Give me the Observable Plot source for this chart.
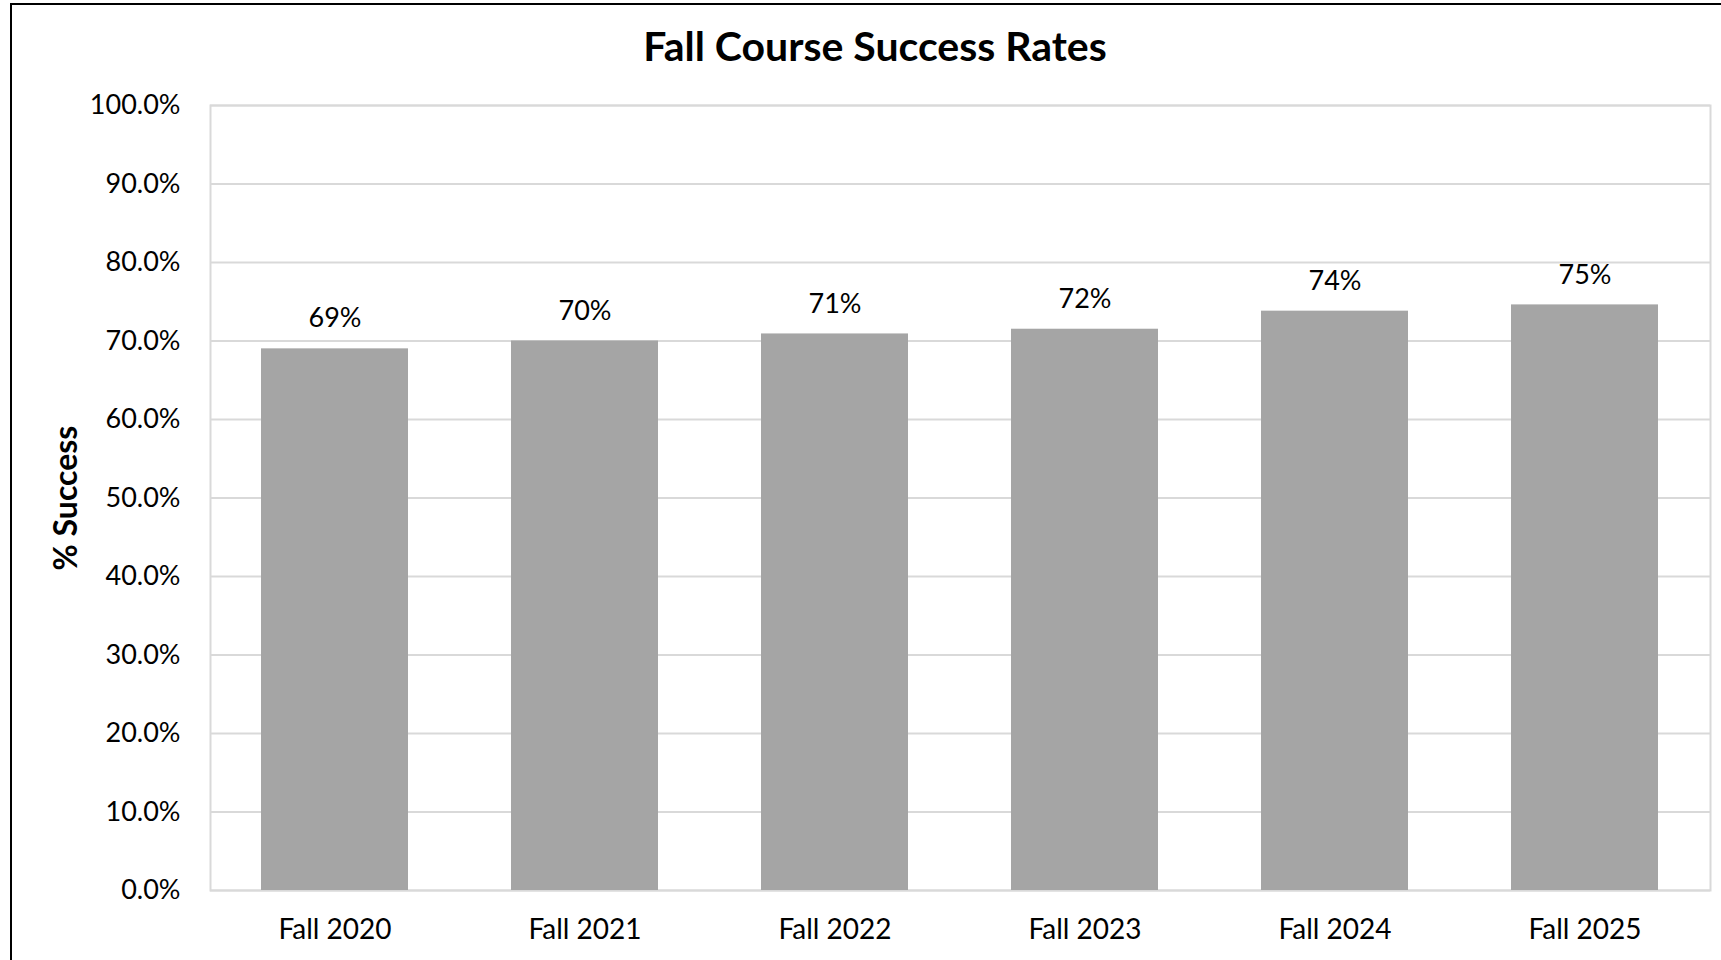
<!DOCTYPE html>
<html>
<head>
<meta charset="utf-8">
<script src="https://cdn.jsdelivr.net/npm/d3@7"></script>
<script src="https://cdn.jsdelivr.net/npm/@observablehq/plot@0.6"></script>
<style>
  html, body { margin: 0; padding: 0; background: #fff; }
  #wrap { position: relative; width: 1721px; height: 960px; overflow: hidden; font-family: Lato, "Open Sans", sans-serif; }
  #border { position: absolute; left: 10px; top: 3px; width: 1800px; height: 1100px; border-left: 2px solid #000; border-top: 2px solid #000; box-sizing: border-box; }
  #title { position: absolute; left: 875px; top: 21px; transform: translateX(-50%); font-size: 41px; font-weight: bold; white-space: nowrap; line-height: normal; color: #000; }
  #chart { position: absolute; left: 0; top: 0; }
</style>
</head>
<body>
<div id="wrap">
  <div id="border"></div>
  <div id="chart"></div>
  <div id="title">Fall Course Success Rates</div>
</div>
<script>
const categories = ["Fall 2020", "Fall 2021", "Fall 2022", "Fall 2023", "Fall 2024", "Fall 2025"];
const successRates = [69.0, 70.0, 70.9, 71.5, 73.8, 74.6];
const barLabels = ["69%", "70%", "71%", "72%", "74%", "75%"];
const yTicks = [0, 10, 20, 30, 40, 50, 60, 70, 80, 90, 100];
const yAxisTitle = "% Success";

const data = categories.map((c, i) => ({ term: c, rate: successRates[i], label: barLabels[i] }));

const chart = Plot.plot({
  width: 1721,
  height: 960,
  marginTop: 105,
  marginBottom: 70,
  marginLeft: 210,
  marginRight: 11,
  style: { fontFamily: "Lato, 'Open Sans', sans-serif", fontSize: "27px", color: "#000", background: "transparent" },
  x: { domain: categories, paddingInner: 0.4118, paddingOuter: 0.2059, label: null },
  y: { domain: [0, 100], label: null },
  marks: [
    Plot.gridY(yTicks, { stroke: "#d9d9d9", strokeOpacity: 1, strokeWidth: 2 }),
    Plot.frame({ stroke: "#d9d9d9", strokeWidth: 2 }),
    Plot.barY(data, { x: "term", y: "rate", fill: "#a5a5a5" }),
    Plot.text(data, { x: "term", y: "rate", text: "label", dy: -30, fontSize: 27, fill: "#000" }),
    Plot.axisY({ ticks: yTicks, tickFormat: d => d.toFixed(1) + "%", tickSize: 0, tickPadding: 30, label: null, fontSize: 27 }),
    Plot.axisX({ tickSize: 0, tickPadding: 29, label: null, fontSize: 28 }),
    Plot.text([yAxisTitle], { frameAnchor: "left", textAnchor: "middle", rotate: -90, dx: -144, fontWeight: "bold", fontSize: 32, fill: "#000" })
  ]
});
document.getElementById("chart").appendChild(chart);
</script>
</body>
</html>
